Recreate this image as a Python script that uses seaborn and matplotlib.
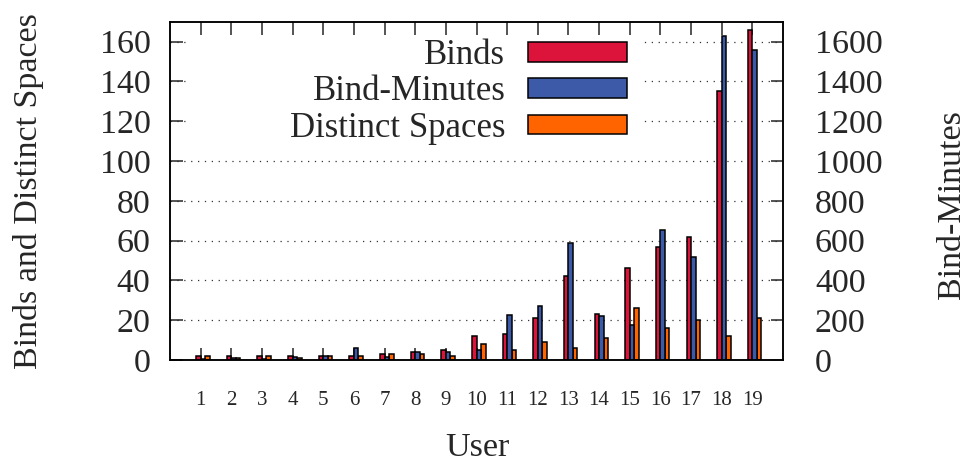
import numpy as np
import pandas as pd
import matplotlib
matplotlib.use("Agg")
import matplotlib.pyplot as plt
from matplotlib.patches import Patch, Rectangle
import seaborn as sns

# Per-user activity
users = list(range(1, 20))
binds = [2, 2, 2, 2, 2, 2, 3, 4, 5, 12, 13, 21, 42, 23, 46, 57, 62, 135, 166]
bind_minutes = [3, 10, 3, 15, 20, 60, 17, 40, 40, 50, 228, 270, 587, 223, 174, 651, 517, 1627, 1560]
distinct_spaces = [2, 1, 2, 1, 2, 2, 3, 3, 2, 8, 5, 9, 6, 11, 26, 16, 20, 12, 21]

series_names = ["Binds", "Bind-Minutes", "Distinct Spaces"]
colors = ["#dc143c", "#3c5aa8", "#ff6400"]

sns.set_style("white")
plt.rcParams["font.family"] = ["Liberation Serif", "DejaVu Serif"]
plt.rcParams["mathtext.fontset"] = "stix"

fig = plt.figure(figsize=(9.66, 4.63), dpi=100)
ax1 = fig.add_axes([170 / 966, 1 - 360 / 463, (783 - 170) / 966, (360 - 21.7) / 463])
ax2 = ax1.twinx()

bw = 0.147
x = np.array(users, dtype=float)
edge = dict(edgecolor="black", linewidth=1.1)

sns.barplot(x=x - bw / 2, y=binds, native_scale=True, width=bw, color=colors[0],
            saturation=1, errorbar=None, ax=ax1, **edge)
sns.barplot(x=x + 1.5 * bw, y=distinct_spaces, native_scale=True, width=bw, color=colors[2],
            saturation=1, errorbar=None, ax=ax1, **edge)
sns.barplot(x=x + bw / 2, y=bind_minutes, native_scale=True, width=bw, color=colors[1],
            saturation=1, errorbar=None, ax=ax2, **edge)

ax1.set_xlim(0, 20)
ax1.set_ylim(0, 170)
ax2.set_ylim(0, 1700)

ax1.set_xticks(users)
ax1.set_xticklabels([str(u) for u in users], fontsize=15)
ax1.set_yticks(range(0, 161, 20))
ax1.set_yticklabels([str(v) for v in range(0, 161, 20)], fontsize=24.5)
ax2.set_yticks(range(0, 1601, 200))
ax2.set_yticklabels([str(v) for v in range(0, 1601, 200)], fontsize=24.5)

ax1.tick_params(axis="x", direction="in", length=9, width=1.1, top=True, bottom=True, pad=22)
ax1.tick_params(axis="y", direction="in", length=9, width=1.1, left=True, right=False, pad=14)
ax2.tick_params(axis="y", direction="in", length=9, width=1.1, right=True, left=False, pad=23)
ax2.tick_params(axis="x", top=False, bottom=False)

for ax in (ax1, ax2):
    for s in ax.spines.values():
        s.set_visible(True)
        s.set_linewidth(1.1)
        s.set_color("black")

ax1.set_axisbelow(True)
ax1.yaxis.grid(True, linestyle=(0, (1, 4.5)), color="#333333", linewidth=0.9)
ax1.xaxis.grid(False)
ax2.grid(False)

ax1.set_xlabel("User", fontsize=24.5)
ax1.set_ylabel("Binds and Distinct Spaces", fontsize=24.5)
ax2.set_ylabel("Bind-Minutes", fontsize=24.5)
ax1.xaxis.set_label_coords(0.502, -0.26)
ax1.xaxis.label.set_va("center")
ax1.yaxis.set_label_coords(-0.2316, 0.5)
ax1.yaxis.label.set_va("center")
ax2.yaxis.set_label_coords(1.2745, 0.46)
ax2.yaxis.label.set_va("center")

# opaque key area: hides the grid behind the whole key block, below the top ticks
ax2.add_patch(Rectangle((0.032, 0.665), 0.742, 0.295, transform=ax2.transAxes,
                        facecolor="white", edgecolor="none", zorder=3))

handles = [Patch(facecolor=c, edgecolor="black", linewidth=1.1) for c in colors]
leg = ax2.legend(handles, series_names, loc="upper right", bbox_to_anchor=(0.768, 0.99),
                 borderaxespad=0, markerfirst=False, handlelength=2.85, handleheight=0.5,
                 labelspacing=0.1, handletextpad=0.65, borderpad=0.4, fontsize=25,
                 frameon=False)
leg.set_zorder(5)
for t in leg.get_texts():
    t.set_ha("right")

fig.savefig("out.png", dpi=100)
